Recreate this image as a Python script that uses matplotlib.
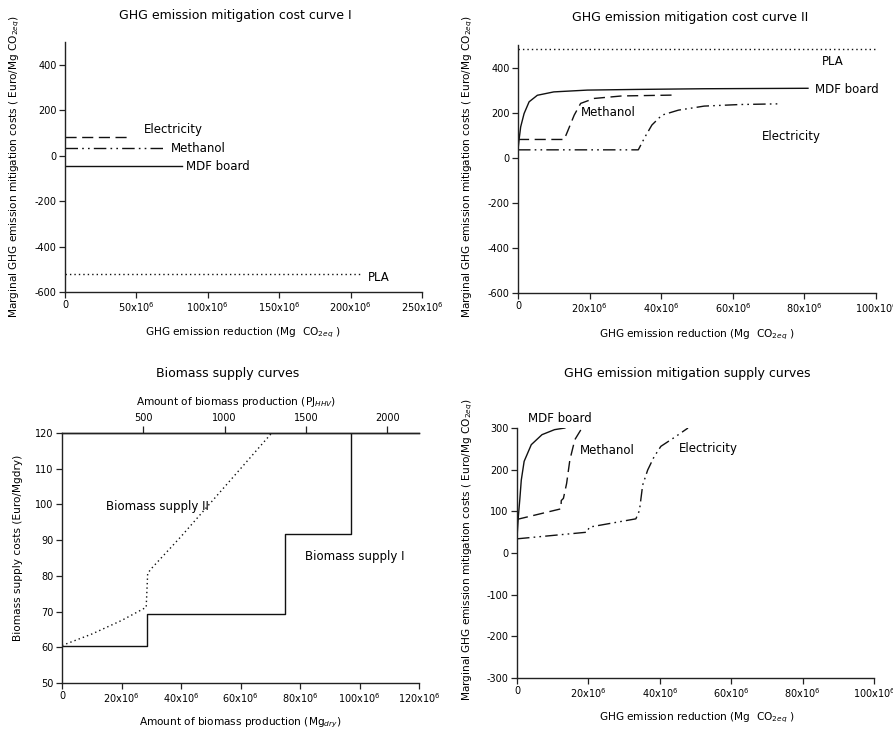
import matplotlib
matplotlib.use("Agg")
import matplotlib.pyplot as plt
from matplotlib.ticker import FuncFormatter

plt.rcParams["font.family"] = ["DejaVu Sans"]
plt.rcParams["mathtext.fontset"] = "dejavusans"
plt.rcParams["axes.unicode_minus"] = False

# --- cost curve I (constant marginal costs) ---
p1_names = ["Electricity", "Methanol", "MDF board", "PLA"]
p1_cost = [80, 35, -45, -520]
p1_reduction = [45e6, 71e6, 82e6, 208e6]

# --- cost curve II ---
p2_pla_x = [0, 100e6]
p2_pla_y = [484, 484]
p2_mdf_x = [0, 0.3e6, 0.75e6, 1.7e6, 3.1e6, 5.4e6, 10e6, 19.4e6, 33.4e6, 52e6, 81e6]
p2_mdf_y = [35, 80, 137, 196, 248, 277, 292, 300, 303, 306, 308]
p2_meth_x = [0, 12.9e6, 13.8e6, 15.7e6, 17.5e6, 21.3e6, 29e6, 44e6]
p2_meth_y = [81, 81, 115, 189, 241, 263, 274, 278]
p2_elec_x = [0, 33.6e6, 35.5e6, 37.4e6, 40.2e6, 44.8e6, 52e6, 62e6, 72.8e6]
p2_elec_y = [35, 35, 93, 145, 189, 211, 229, 236, 239]

# --- biomass supply curves ---
supply1_x = [0, 28.5e6, 28.5e6, 75e6, 75e6, 97e6, 97e6]
supply1_y = [60.5, 60.5, 69.3, 69.3, 91.6, 91.6, 120]
supply2_x = [0, 10e6, 20e6, 28.3e6, 28.8e6, 30e6, 40e6, 50e6, 60e6, 70.5e6]
supply2_y = [60.5, 63.7, 67.5, 71.2, 80.7, 82, 91, 100.5, 110, 120]
mg_to_pj = 1.83e-5

# --- mitigation supply curves ---
p4_mdf_x = [0, 0.1e6, 0.4e6, 0.8e6, 1.2e6, 2e6, 4e6, 7e6, 10.5e6, 13.4e6]
p4_mdf_y = [25, 50, 90, 130, 175, 220, 260, 284, 296, 300]
p4_meth_x = [0, 12.3e6, 12.4e6, 13e6, 13.9e6, 14.8e6, 16.2e6, 18.2e6]
p4_meth_y = [80.6, 106, 126, 131, 167, 223, 272, 300]
p4_elec_x = [0, 19.7e6, 20.2e6, 33.3e6, 34.3e6, 35.2e6, 36.6e6, 38.4e6, 40.3e6, 44.2e6, 47.9e6]
p4_elec_y = [34, 50, 62, 82, 102, 163, 199, 231, 256, 278, 300]

W, H = 893, 733
fig = plt.figure(figsize=(W / 100, H / 100), dpi=100)

dash = (0, (8, 4))
dashdotdot = (0, (9, 3, 1.2, 3, 1.2, 3))
dot = (0, (1, 2.2))
lc = "#111111"
fs_lab = 8.5   # in-plot curve labels
fs_axis = 7.6  # axis labels
fs_title = 9


def px_axes(l, t, r, b):
    return fig.add_axes([l / W, 1 - b / H, (r - l) / W, (b - t) / H])


def mega(v, pos):
    if v == 0:
        return "0"
    return r"%dx10$^6$" % round(v / 1e6)


def style(ax, top=False):
    for s in ["right"] + ([] if top else ["top"]):
        ax.spines[s].set_visible(False)
    for s in ax.spines.values():
        s.set_linewidth(1.0)
        s.set_color("#222222")
    ax.tick_params(direction="out", length=4, width=0.9, labelsize=7, pad=2, color="#222222")
    ax.xaxis.set_major_formatter(FuncFormatter(mega))


def ftext(x, y, s, size=fs_axis, **kw):
    fig.text(x / W, 1 - y / H, s, ha="center", va="center", fontsize=size, **kw)


ylab = r"Marginal GHG emission mitigation costs ( Euro/Mg CO$_{2eq}$)"
xlab = r"GHG emission reduction (Mg  CO$_{2eq}$ )"

# panel 1
ax1 = px_axes(65, 42, 422, 292)
for name, c, r, ls in zip(p1_names, p1_cost, p1_reduction, [dash, dashdotdot, "-", dot]):
    ax1.plot([0, r], [c, c], color=lc, lw=1.0, linestyle=ls)
ax1.set_xlim(0, 250e6)
ax1.set_ylim(-600, 500)
ax1.set_xticks(range(0, 250000001, 50000000))
ax1.set_yticks(range(-600, 401, 200))
style(ax1)
ax1.text(55e6, 114, "Electricity", fontsize=fs_lab, va="center")
ax1.text(74e6, 30, "Methanol", fontsize=fs_lab, va="center")
ax1.text(85e6, -49, "MDF board", fontsize=fs_lab, va="center")
ax1.text(212e6, -534, "PLA", fontsize=fs_lab, va="center")
ftext(235, 16, "GHG emission mitigation cost curve I", size=fs_title)
ftext(243, 333, xlab)
ftext(15, 167, ylab, rotation=90)

# panel 2
ax2 = px_axes(518, 45, 876, 293)
ax2.plot(p2_pla_x, p2_pla_y, color=lc, lw=1.0, linestyle=dot)
ax2.plot(p2_mdf_x, p2_mdf_y, color=lc, lw=1.0)
ax2.plot(p2_meth_x, p2_meth_y, color=lc, lw=1.0, linestyle=dash)
ax2.plot(p2_elec_x, p2_elec_y, color=lc, lw=1.0, linestyle=dashdotdot)
ax2.set_xlim(0, 100e6)
ax2.set_ylim(-600, 500)
ax2.set_xticks(range(0, 100000001, 20000000))
ax2.set_yticks(range(-600, 401, 200))
style(ax2)
ax2.text(85e6, 425, "PLA", fontsize=fs_lab, va="center")
ax2.text(83e6, 303, "MDF board", fontsize=fs_lab, va="center")
ax2.text(17.7e6, 200, "Methanol", fontsize=fs_lab, va="center")
ax2.text(68e6, 95, "Electricity", fontsize=fs_lab, va="center")
ftext(690, 17, "GHG emission mitigation cost curve II", size=fs_title)
ftext(697, 335, xlab)
ftext(468, 167, ylab, rotation=90)

# panel 3
ax3 = px_axes(62, 433, 419, 683)
ax3.plot(supply1_x, supply1_y, color=lc, lw=1.0)
ax3.plot(supply2_x, supply2_y, color=lc, lw=1.0, linestyle=dot)
ax3.set_xlim(0, 120e6)
ax3.set_ylim(50, 120)
ax3.set_xticks(range(0, 120000001, 20000000))
ax3.set_yticks(range(50, 121, 10))
style(ax3, top=True)
sec = ax3.secondary_xaxis("top", functions=(lambda x: x * mg_to_pj, lambda p: p / mg_to_pj))
sec.set_xticks([500, 1000, 1500, 2000])
sec.tick_params(direction="out", length=5, width=0.9, labelsize=7, pad=2, color="#222222")
sec.spines["top"].set_linewidth(1.0)
ax3.text(14.8e6, 99.3, "Biomass supply II", fontsize=fs_lab, va="center")
ax3.text(81.6e6, 85.3, "Biomass supply I", fontsize=fs_lab, va="center")
ftext(228, 373, "Biomass supply curves", size=fs_title)
ftext(236, 402, r"Amount of biomass production (PJ$_{HHV}$)")
ftext(240, 723, r"Amount of biomass production (Mg$_{dry}$)")
ftext(18, 548, "Biomass supply costs (Euro/Mgdry)", rotation=90)

# panel 4
ax4 = px_axes(517, 428, 874, 678)
ax4.plot(p4_mdf_x, p4_mdf_y, color=lc, lw=1.0)
ax4.plot(p4_meth_x, p4_meth_y, color=lc, lw=1.0, linestyle=dash)
ax4.plot(p4_elec_x, p4_elec_y, color=lc, lw=1.0, linestyle=dashdotdot)
ax4.set_xlim(0, 100e6)
ax4.set_ylim(-300, 300)
ax4.set_xticks(range(0, 100000001, 20000000))
ax4.set_yticks(range(-300, 301, 100))
style(ax4)
ax4.text(3.1e6, 322, "MDF board", fontsize=fs_lab, va="center", clip_on=False)
ax4.text(17.6e6, 245, "Methanol", fontsize=fs_lab, va="center")
ax4.text(45.3e6, 250, "Electricity", fontsize=fs_lab, va="center")
ftext(687, 373, "GHG emission mitigation supply curves", size=fs_title)
ftext(697, 718, xlab)
ftext(468, 550, ylab, rotation=90)

fig.savefig("out.png", dpi=100)
